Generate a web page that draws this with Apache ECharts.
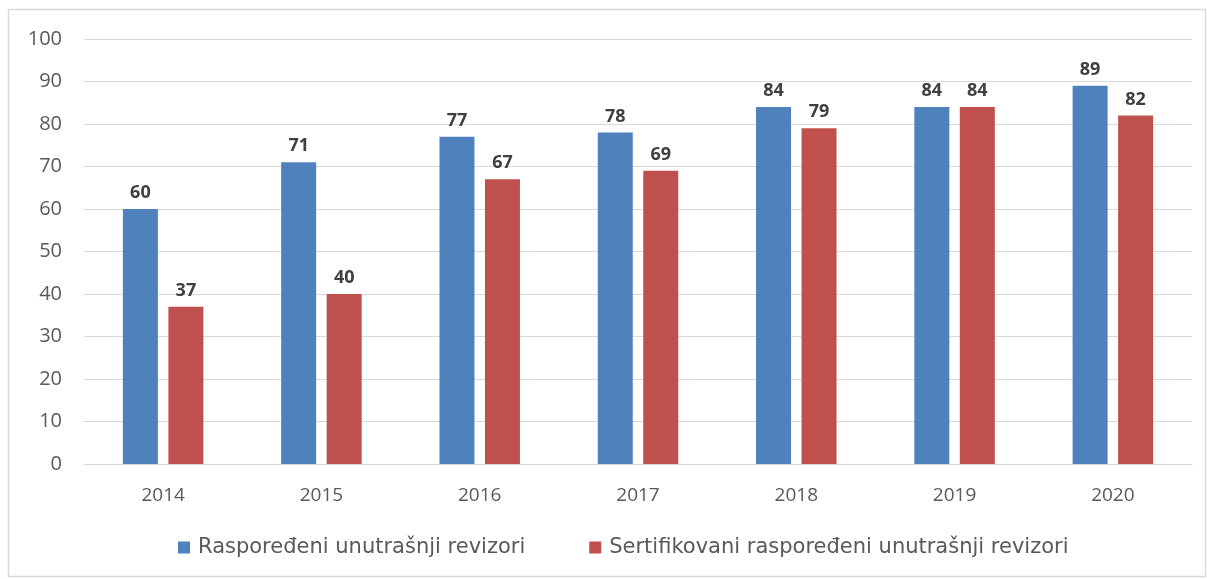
<!DOCTYPE html>
<html>
<head>
<meta charset="utf-8">
<script src="https://cdn.jsdelivr.net/npm/echarts@6/dist/echarts.min.js"></script>
<style>
    html, body { margin: 0; padding: 0; background: #fff; }
    #chart { width: 1207px; height: 579px; }
</style>
</head>
<body>
<div id="chart"></div>
<script>
    const years = ['2014', '2015', '2016', '2017', '2018', '2019', '2020']
    const rasporedeni = [60, 71, 77, 78, 84, 84, 89]
    const sertifikovani = [37, 40, 67, 69, 79, 84, 82]
    const seriesNames = ['Raspoređeni unutrašnji revizori', 'Sertifikovani raspoređeni unutrašnji revizori']

    const labelStyle = {
        show: true,
        position: 'top',
        distance: 7,
        color: '#404040',
        fontWeight: 'bold',
        fontSize: 18,
        fontFamily: 'Open Sans'
    }

    let chart = echarts.init(document.getElementById('chart'))
    chart.setOption({
        animation: false,
        textStyle: { fontFamily: 'Open Sans' },
        graphic: [{
            type: 'rect',
            shape: { x: 8.5, y: 9.5, width: 1197, height: 567 },
            style: { fill: 'none', stroke: '#d9d9d9', lineWidth: 1.5 },
            silent: true
        }],
        grid: { left: 84, right: 15, top: 39, bottom: 115 },
        legend: {
            bottom: 16,
            left: 173,
            itemWidth: 12,
            itemHeight: 12,
            itemGap: 64,
            icon: 'rect',
            textStyle: { color: '#595959', fontSize: 21, fontFamily: 'DejaVu Sans', padding: [0, 0, 0, 3] },
            data: seriesNames
        },
        xAxis: {
            type: 'category',
            data: years,
            axisTick: { show: false },
            axisLine: { lineStyle: { color: '#d9d9d9' } },
            axisLabel: { color: '#595959', fontSize: 19, margin: 22 }
        },
        yAxis: {
            type: 'value',
            min: 0,
            max: 100,
            interval: 10,
            axisLine: { show: false },
            axisTick: { show: false },
            axisLabel: { color: '#595959', fontSize: 20, margin: 22 },
            splitLine: { lineStyle: { color: '#d9d9d9' } }
        },
        series: [
            {
                name: seriesNames[0],
                type: 'bar',
                data: rasporedeni,
                barWidth: 35,
                barGap: '30%',
                itemStyle: { color: '#4F81BD' },
                label: labelStyle
            },
            {
                name: seriesNames[1],
                type: 'bar',
                data: sertifikovani,
                barWidth: 35,
                barGap: '30%',
                itemStyle: { color: '#C0504D' },
                label: labelStyle
            }
        ]
    })
</script>
</body>
</html>
